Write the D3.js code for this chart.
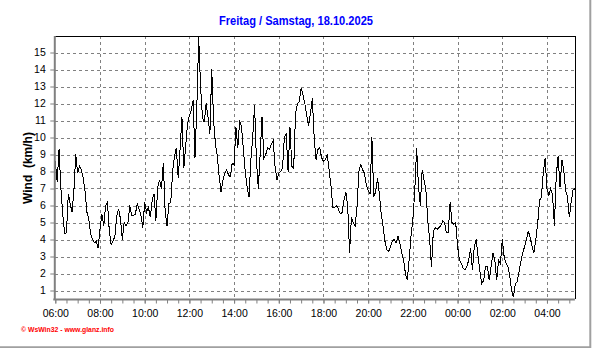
<!DOCTYPE html>
<html>
<head>
<meta charset="utf-8">
<script src="https://cdn.jsdelivr.net/npm/d3@7"></script>
<style>
  body { margin: 0; background: #fff; }
  svg { display: block; }
  text { font-family: Arial, "Liberation Sans", sans-serif; }
</style>
</head>
<body>
<svg id="chart" width="592" height="348"></svg>
<script>
const title = 'Freitag / Samstag, 18.10.2025';
const yLabel = 'Wind  (km/h)';
const footer = '\u00a9 WsWin32 - www.glanz.info';

// readings every 5 minutes, starting Friday 06:00
const startTime = new Date(2025, 9, 17, 6, 0);
const stepMinutes = 5;
const wind = [
  8.6, 7.4, 9.3, 7.0, 5.5, 4.35, 4.4, 6.7, 6.1, 5.6,
  6.9, 9.0, 7.9, 8.3, 8.1, 7.6, 6.8, 5.6, 5.2, 4.3,
  4.0, 3.8, 3.9, 3.5, 4.6, 5.5, 4.8, 6.0, 6.2, 4.5,
  3.7, 3.9, 4.2, 5.4, 5.8, 5.2, 4.0, 5.0, 4.8, 5.0,
  6.0, 5.4, 5.4, 5.5, 6.1, 5.8, 5.4, 4.7, 6.2, 5.6,
  5.9, 5.3, 6.3, 6.7, 5.1, 7.1, 7.5,
  7.0, 8.5, 5.6, 4.8, 6.1, 6.2, 8.0, 8.9, 9.4, 7.6,
  9.3, 11.2, 8.2, 9.5, 10.8, 11.3, 11.6, 12.2, 8.8, 11.8,
  15.9, 13.0, 11.2, 10.9, 12.0, 11.2, 10.2, 14.0, 11.0, 9.6,
  8.9, 7.7, 6.8, 7.5, 7.9, 8.1, 7.8, 7.7, 8.5, 8.4,
  10.6, 9.4, 11.0, 10.6, 9.3, 8.0, 7.1, 6.5, 8.7, 10.0,
  11.9, 8.7, 7.0, 9.0, 11.2, 8.8,
  9.0, 9.4, 9.3, 9.6, 9.8, 8.3, 7.5, 7.9, 8.0, 8.2,
  10.0, 10.2, 8.0, 10.6, 8.3, 8.2, 11.4, 12.0, 12.1, 12.9,
  12.5, 12.0, 11.3, 10.7, 11.4, 12.3, 10.0, 8.7, 9.3, 9.4,
  8.8, 8.6, 8.7, 9.0, 8.1, 7.2, 5.9, 5.9, 6.0, 5.8,
  5.5, 5.6, 6.3, 6.8, 6.0, 3.2, 5.3, 5.0, 4.8, 5.9,
  8.0, 8.4, 8.1, 7.9, 7.2, 6.9,
  6.7, 10.0, 6.5, 6.8, 7.6, 6.7, 5.5, 4.8, 3.9, 3.4,
  3.3, 3.6, 3.9, 4.0, 3.8, 4.2, 3.8, 3.2, 2.8, 2.0,
  1.6, 2.8, 4.2, 5.2, 6.8, 9.4, 7.1, 6.0, 8.1, 7.5,
  6.9, 5.1, 4.0, 2.4, 4.5, 4.7, 4.6, 4.7, 4.8, 5.1,
  5.0, 4.4, 4.4, 6.2, 5.0, 4.9, 5.0, 3.6, 2.8, 2.6,
  2.3, 2.2, 2.4, 2.8, 3.5, 2.2,
  3.6, 4.0, 3.0, 2.1, 1.4, 1.6, 2.4, 2.4, 1.6, 2.4,
  3.2, 2.8, 1.6, 2.8, 2.6, 4.0, 3.0, 2.6, 2.4, 1.9,
  1.0, 0.6, 1.4, 1.5, 2.1, 2.7, 3.2, 3.6, 4.0, 4.5,
  4.1, 3.6, 3.2, 4.0, 4.9, 6.3, 6.5, 7.9, 8.8, 7.0,
  6.6, 7.0, 6.6, 4.8, 7.8, 8.9, 7.1, 8.7, 8.1, 6.9,
  6.5, 5.3, 6.2, 6.9, 7.0
];
const yTicks = [1, 2, 3, 4, 5, 6, 7, 8, 9, 10, 11, 12, 13, 14, 15];
const yDomain = [0.5, 16];

const svg = d3.select('#chart');
const plotLeft = 55.3, plotRight = 574.9, plotTop = 35.5, plotBottom = 299;

const points = wind.map((v, i) => ({ t: d3.timeMinute.offset(startTime, i * stepMinutes), v }));
const endTime = points[points.length - 1].t;

const x = d3.scaleTime()
    .domain([startTime, endTime])
    .range([plotLeft, plotRight]);
const y = d3.scaleLinear().domain(yDomain).range([plotBottom, plotTop]);

const labelTimes = d3.timeHour.every(2).range(startTime, d3.timeMinute.offset(endTime, 1));
const minorTimes = d3.timeMinute.every(30).range(startTime, d3.timeMinute.offset(endTime, 1));

// outer panel shadow
svg.append('path')
    .attr('d', 'M590.3,0V347.3H0')
    .attr('fill', 'none')
    .attr('stroke', '#a0a0a0')
    .attr('stroke-width', 2);

// grid
const grid = svg.append('g')
    .attr('stroke', '#808080')
    .attr('stroke-dasharray', '3,3')
    .attr('shape-rendering', 'crispEdges');

grid.selectAll('.hgrid')
    .data(yTicks)
    .join('line')
    .attr('x1', plotLeft).attr('x2', plotRight)
    .attr('y1', d => Math.round(y(d)) + 0.5)
    .attr('y2', d => Math.round(y(d)) + 0.5);

grid.selectAll('.vgrid')
    .data(labelTimes.slice(1))
    .join('line')
    .attr('y1', plotTop).attr('y2', plotBottom)
    .attr('x1', d => Math.round(x(d)) + 0.5)
    .attr('x2', d => Math.round(x(d)) + 0.5);

// top and right frame
svg.append('path')
    .attr('d', `M${plotLeft},${plotTop + 0.5}H${Math.round(plotRight) + 0.5}V${plotBottom}`)
    .attr('fill', 'none')
    .attr('stroke', '#000')
    .attr('stroke-width', 1)
    .attr('shape-rendering', 'crispEdges');

// wind line
svg.append('path')
    .datum(points)
    .attr('fill', 'none')
    .attr('stroke', '#000')
    .attr('stroke-width', 1)
    .attr('shape-rendering', 'crispEdges')
    .attr('d', d3.line().x(d => x(d.t)).y(d => y(d.v)));

// y axis
const yAxis = svg.append('g')
    .attr('transform', `translate(${plotLeft - 1},0)`)
    .call(d3.axisLeft(y).tickValues(yTicks).tickSize(4).tickSizeOuter(0).tickPadding(4.5));
yAxis.select('.domain').attr('stroke', '#808080').attr('stroke-width', 2);
yAxis.selectAll('.tick line').attr('stroke', '#808080');
yAxis.selectAll('.tick text').attr('font-size', '10.5px').attr('fill', '#000')
    .style('font-family', 'Arial, "Liberation Sans", sans-serif');

// x axis
const xMinor = svg.append('g')
    .attr('transform', `translate(0,${plotBottom + 0.5})`)
    .call(d3.axisBottom(x).tickValues(minorTimes).tickFormat('').tickSize(4).tickSizeOuter(0));
xMinor.select('.domain').remove();
xMinor.selectAll('.tick line').attr('stroke', '#808080');

const xAxis = svg.append('g')
    .attr('transform', `translate(0,${plotBottom + 0.5})`)
    .call(d3.axisBottom(x).tickValues(labelTimes).tickFormat(d3.timeFormat('%H:%M'))
        .tickSize(4).tickSizeOuter(0).tickPadding(6.5));
xAxis.select('.domain').attr('stroke', '#808080').attr('stroke-width', 2)
    .attr('d', `M${plotLeft - 2},0H${plotRight}`);
xAxis.selectAll('.tick line').attr('stroke', '#808080');
xAxis.selectAll('.tick text').attr('font-size', '10.5px').attr('fill', '#000')
    .style('font-family', 'Arial, "Liberation Sans", sans-serif');

// title
svg.append('text')
    .attr('x', 219).attr('y', 25.3)
    .attr('fill', '#0000ff')
    .attr('font-size', '12px')
    .attr('font-weight', 'bold')
    .attr('textLength', 154)
    .attr('lengthAdjust', 'spacingAndGlyphs')
    .text(title);

// y label
svg.append('text')
    .attr('transform', 'translate(31.5,168) rotate(-90)')
    .attr('text-anchor', 'middle')
    .attr('font-size', '12px')
    .attr('font-weight', 'bold')
    .style('white-space', 'pre')
    .text(yLabel);

// footer
svg.append('text')
    .attr('x', 21).attr('y', 332)
    .attr('fill', '#ff0000')
    .attr('font-size', '6.5px')
    .attr('font-weight', 'bold')
    .attr('textLength', 93)
    .attr('lengthAdjust', 'spacingAndGlyphs')
    .text(footer);
</script>
</body>
</html>
